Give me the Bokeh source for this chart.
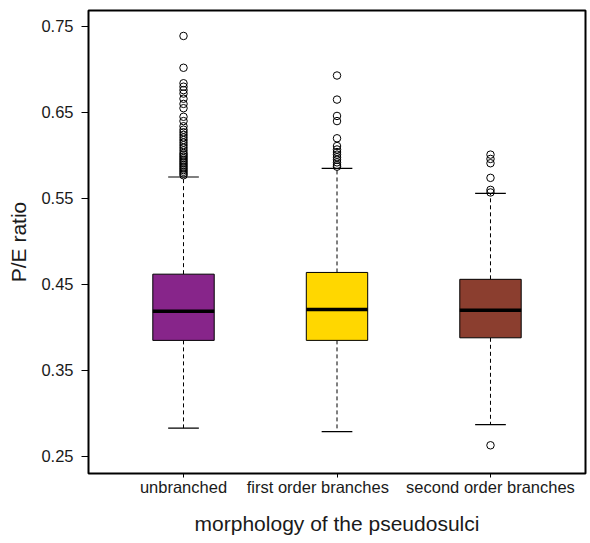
from bokeh.plotting import figure
from bokeh.models import Range1d, FixedTicker, LinearAxis, ColumnDataSource
from bokeh.embed import file_html
from bokeh.resources import INLINE

categories = ["unbranched", "first order branches", "second order branches"]
box_colors = ["#87258a", "#ffd700", "#8b3e2f"]
q1 = [0.385, 0.385, 0.388]
median = [0.419, 0.421, 0.420]
q3 = [0.462, 0.464, 0.456]
lower_whisker = [0.283, 0.279, 0.287]
upper_whisker = [0.575, 0.585, 0.556]
outliers_unbranched = [0.739, 0.702, 0.684, 0.680, 0.676, 0.672, 0.666, 0.660, 0.655,
                       0.645, 0.640, 0.634, 0.630, 0.627, 0.624, 0.621, 0.618, 0.615,
                       0.612, 0.609, 0.606, 0.603, 0.601, 0.599, 0.597, 0.595, 0.593,
                       0.591, 0.589, 0.587, 0.585, 0.583, 0.581, 0.579, 0.577]
outliers_first = [0.693, 0.665, 0.646, 0.640, 0.620, 0.611, 0.607, 0.604, 0.601,
                  0.598, 0.595, 0.592, 0.589, 0.587]
outliers_second = [0.601, 0.596, 0.591, 0.574, 0.560, 0.557, 0.263]
y_ticks = [0.25, 0.35, 0.45, 0.55, 0.65, 0.75]

FONT = "Liberation Sans"
TXT = "#1a1a1a"
xs = [i + 1 for i in range(len(categories))]
box_w = 0.4
cap_w = 0.2
label_shift = [0.0, -0.125, 0.0]   # the middle category label sits a little to the left

p = figure(width=590, height=543, output_backend="svg", toolbar_location=None,
           x_range=Range1d(0.381, 3.619), y_range=Range1d(0.2302, 0.7686),
           min_border_left=88, min_border_right=5, min_border_top=10,
           min_border_bottom=70)
p.xgrid.visible = False
p.ygrid.visible = False
p.outline_line_color = "black"
p.outline_line_width = 2
p.background_fill_color = "white"
p.border_fill_color = "white"

src = ColumnDataSource(dict(
    x=xs, q1=q1, q3=q3, med=median, lo=lower_whisker, hi=upper_whisker,
    color=box_colors,
    xl=[x - box_w / 2 for x in xs], xr=[x + box_w / 2 for x in xs],
    cl=[x - cap_w / 2 for x in xs], cr=[x + cap_w / 2 for x in xs],
))

# whiskers
p.segment(x0="x", y0="q3", x1="x", y1="hi", source=src, line_color="black",
          line_width=1, line_dash="4 3")
p.segment(x0="x", y0="q1", x1="x", y1="lo", source=src, line_color="black",
          line_width=1, line_dash="4 3")
# caps
p.segment(x0="cl", y0="hi", x1="cr", y1="hi", source=src, line_color="black", line_width=1.2)
p.segment(x0="cl", y0="lo", x1="cr", y1="lo", source=src, line_color="black", line_width=1.2)
# boxes
p.vbar(x="x", width=box_w, bottom="q1", top="q3", source=src, fill_color="color",
       line_color="black", line_width=1)
# medians
p.segment(x0="xl", y0="med", x1="xr", y1="med", source=src, line_color="black", line_width=3.5)

# outliers
for x, vals in zip(xs, [outliers_unbranched, outliers_first, outliers_second]):
    p.scatter([x] * len(vals), vals, size=7.5, marker="circle", fill_color=None,
              line_color="black", line_width=1)

# y axis
p.yaxis.ticker = FixedTicker(ticks=y_ticks)
p.yaxis.major_label_overrides = {t: f"{t:.2f}" for t in y_ticks}
p.yaxis.minor_tick_line_color = None
p.yaxis.major_tick_out = 7
p.yaxis.major_tick_in = 0
p.yaxis.axis_line_color = None
p.yaxis.major_label_text_font = FONT
p.yaxis.major_label_text_font_size = "16.5px"
p.yaxis.major_label_text_color = TXT
p.yaxis.major_label_standoff = 8
p.yaxis.axis_label = "P/E ratio"
p.yaxis.axis_label_text_font = FONT
p.yaxis.axis_label_text_font_size = "21px"
p.yaxis.axis_label_text_font_style = "normal"
p.yaxis.axis_label_text_color = TXT
p.yaxis.axis_label_standoff = 8

# x axis: tick marks only (labels empty)
p.xaxis.ticker = FixedTicker(ticks=xs)
p.xaxis.major_label_overrides = {x: "" for x in xs}
p.xaxis.major_label_text_font_size = "16.5px"
p.xaxis.major_label_standoff = 0
p.xaxis.minor_tick_line_color = None
p.xaxis.major_tick_out = 4
p.xaxis.major_tick_in = 0
p.xaxis.axis_line_color = None

# x axis: category labels and title
label_pos = [x + s for x, s in zip(xs, label_shift)]
lab_axis = LinearAxis(ticker=FixedTicker(ticks=label_pos),
                      major_label_overrides={pos: c for pos, c in zip(label_pos, categories)},
                      major_tick_line_color=None, minor_tick_line_color=None,
                      axis_line_color=None, major_tick_out=0, major_tick_in=0,
                      major_label_standoff=0,
                      major_label_text_font=FONT, major_label_text_font_size="16.5px",
                      major_label_text_color=TXT,
                      axis_label="morphology of the pseudosulci",
                      axis_label_text_font=FONT, axis_label_text_font_size="21px",
                      axis_label_text_font_style="normal", axis_label_text_color=TXT,
                      axis_label_standoff=13)
p.add_layout(lab_axis, "below")

open("out.html", "w").write(file_html(p, INLINE))
